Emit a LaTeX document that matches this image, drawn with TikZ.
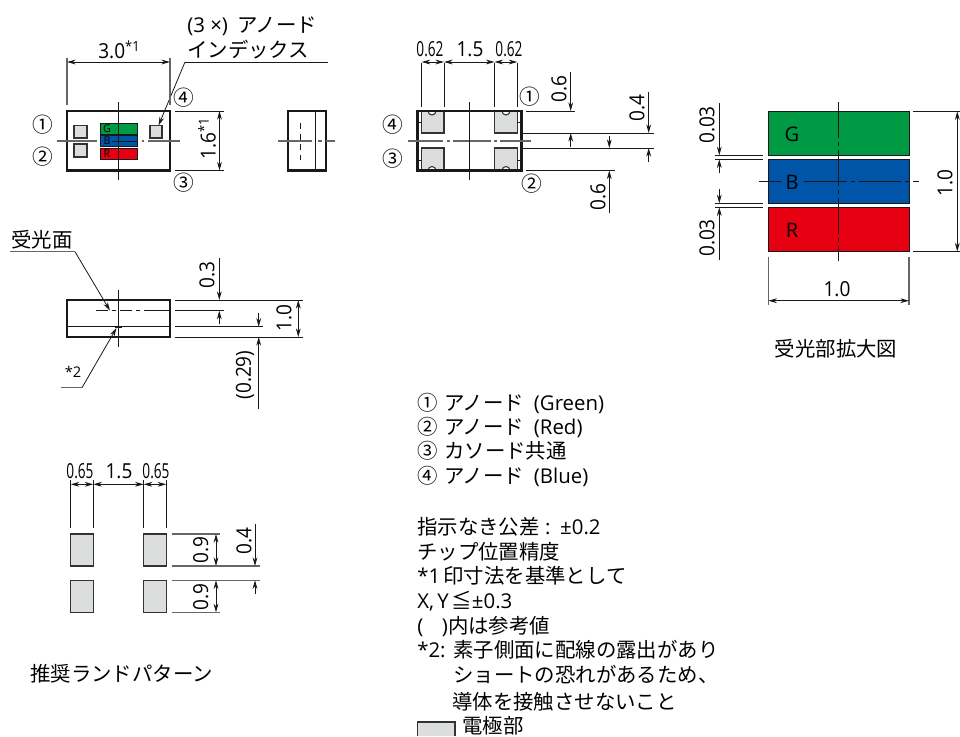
\documentclass[tikz,border=0pt]{standalone}
\usepackage{fontspec}
\setmainfont{Open Sans}
\newfontfamily\jpfont{Noto Sans CJK JP}
\newfontfamily\latfont{Open Sans}
\newfontfamily\dimfont[FakeStretch=0.92]{Open Sans}
\newfontfamily\narrowfont[FakeStretch=0.66]{Open Sans}
\usetikzlibrary{arrows.meta}
\definecolor{padgray}{HTML}{DCDDDD}
\definecolor{linegray}{HTML}{666666}
\definecolor{chipG}{HTML}{009944}
\definecolor{chipB}{HTML}{0055A8}
\definecolor{chipR}{HTML}{E60012}
\newcommand{\starone}{\raisebox{5pt}{\fontsize{10.5}{11}\selectfont*1}}
\tikzset{
	outline/.style={draw=black!90,line width=1.7pt},
	thinline/.style={draw=black!90,line width=0.7pt},
	extline/.style={draw=black!90,line width=0.6pt},
	grayline/.style={draw=linegray,line width=0.8pt},
	centerline/.style={draw=linegray,line width=1.1pt},
	dimline/.style={draw=black!90,line width=0.6pt},
	dimboth/.style={dimline,{Stealth[length=6.5pt,width=3.6pt]}-{Stealth[length=6.5pt,width=3.6pt]}},
	dimhead/.style={dimline,-{Stealth[length=6.5pt,width=3.6pt]}},
	padbox/.style={fill=padgray,draw=black!80,line width=0.8pt},
	txt/.style={inner sep=0pt,text height=14.6pt,text depth=3pt,font=\fontsize{15.3}{18}\selectfont\jpfont,anchor=west},
	dimtxt/.style={inner sep=0pt,font=\fontsize{15.5}{18}\selectfont\dimfont},
	smalldim/.style={inner sep=0pt,font=\fontsize{15.5}{18}\selectfont\narrowfont},
	circnum/.style={inner sep=0pt,font=\fontsize{15.5}{18}\selectfont\jpfont},
	chiplabel/.style={inner sep=0pt,font=\fontsize{15}{18}\selectfont},
	tinylabel/.style={inner sep=0pt,font=\fontsize{8}{9}\selectfont}
}
\begin{document}
\begin{tikzpicture}[x=0.75pt,y=-0.75pt]
	\useasboundingbox (0,0) rectangle (960,736);

	% top view
	\fill[chipG] (100,123) rectangle (137,134);
	\fill[chipB] (100,135.5) rectangle (137,146);
	\fill[chipR] (100,148) rectangle (137,159);
	\foreach \ytop in {123,135.5,148}
		\draw[thinline] (100,\ytop) rectangle (137,\ytop+11);
	\node[tinylabel] (chipg) at (107,129) {G};
	\node[tinylabel] (chipb) at (107,141) {B};
	\node[tinylabel] (chipr) at (107,154) {R};
	\draw[padbox] (74,125.5) rectangle (87,138);
	\draw[padbox] (74,144) rectangle (87,157);
	\draw[padbox] (150,125.5) rectangle (162,138);
	\draw[outline] (67,111) rectangle (170,170.5);
	\draw[centerline] (57,141) -- (97,141);
	\draw[centerline] (142,141) -- (144,141);
	\draw[centerline] (148,141) -- (180,141);
	\draw[thinline] (112,141) -- (137,141);
	\draw[thinline] (118.5,102) -- (118.5,180);
	\coordinate (idxbend) at (185,62);
	\coordinate (idxend) at (328,62);
	\coordinate (idxtip) at (158.5,125.5);
	\draw[thinline] (idxend) -- (idxbend);
	\draw[dimhead] (idxbend) -- (idxtip);
	\node[txt] (idxa) at (187,25) {{\latfont(3 ×)}\hspace{7pt}アノード};
	\node[txt] (idxb) at (187,50) {インデックス};
	\draw[grayline] (67,58) -- (67,105);
	\draw[grayline] (170,58) -- (170,105);
	\draw[dimboth] (67,62) -- (170,62);
	\node[dimtxt] (dimw) at (119,50) {3.0\starone};
	\draw[extline] (175,111) -- (224,111);
	\draw[extline] (175,170.5) -- (224,170.5);
	\draw[dimboth] (219.5,111) -- (219.5,170.5);
	\node[dimtxt,rotate=90] (dimh) at (207,139) {1.6\starone};
	\node[circnum] (topd) at (184,98) {④};
	\node[circnum] (topa) at (43,125) {①};
	\node[circnum] (topb) at (43,157) {②};
	\node[circnum] (topc) at (184,183) {③};

	% side view
	\draw[outline] (288,111) rectangle (326,170.5);
	\draw[thinline] (315,111) -- (315,170.5);
	\draw[centerline] (278,141) -- (312,141);
	\draw[centerline] (318,141) -- (322,141);
	\draw[centerline] (326,141) -- (335,141);
	\draw[thinline,dash pattern=on 4.5pt off 3.5pt] (300,123) -- (300,160);

	% bottom view
	\foreach \xa/\xb/\ya/\yb in {421.7/444/111/133,494.5/517.3/111/133,421.7/444/148/170.5,494.5/517.3/148/170.5}
		\draw[padbox] (\xa,\ya) rectangle (\xb,\yb);
	\foreach \xc in {432,506}{
		\draw[padbox,fill=white] (\xc-4,111) arc[start angle=180,end angle=0,radius=4];
		\draw[padbox,fill=white] (\xc-4,170.5) arc[start angle=180,end angle=360,radius=4];
	}
	\foreach \xe/\xf in {417.5/421.7,517.3/521.5}{
		\draw[thinline] (\xe,122) -- (\xf,122);
		\draw[thinline] (\xe,160) -- (\xf,160);
	}
	\draw[outline] (417.5,111) rectangle (521.5,170.5);
	\foreach \xa/\xb in {408/443,447/450,453/491,494/497,500/531}
		\draw[centerline] (\xa,141) -- (\xb,141);
	\draw[thinline] (469.3,102) -- (469.3,180);
	\foreach \xe in {421.7,444,494.5,517.3}
		\draw[extline] (\xe,63) -- (\xe,107);
	\draw[dimboth] (421.7,62) -- (444,62);
	\draw[dimboth] (444,62) -- (494.5,62);
	\draw[dimboth] (494.5,62) -- (517.3,62);
	\node[smalldim] (pw1) at (430,49) {0.62};
	\node[dimtxt] (pgap) at (470,49) {1.5};
	\node[smalldim] (pw2) at (509,49) {0.62};
	\draw[extline] (526,111) -- (575,111);
	\draw[extline] (522,133) -- (654,133);
	\draw[extline] (522,148) -- (654,148);
	\draw[extline] (526,170.5) -- (615,170.5);
	\draw[dimhead] (570.7,72) -- (570.7,111);
	\draw[dimhead] (570.7,147) -- (570.7,133);
	\draw[dimhead] (609.3,136) -- (609.3,148);
	\draw[dimhead] (609.3,213) -- (609.3,170.5);
	\draw[dimhead] (648.7,92) -- (648.7,133);
	\draw[dimhead] (648.7,162) -- (648.7,148);
	\node[dimtxt,rotate=90] (pa) at (559,89) {0.6};
	\node[dimtxt,rotate=90] (pb) at (598,197) {0.6};
	\node[dimtxt,rotate=90] (pc) at (637,108) {0.4};
	\node[circnum] (bota) at (530,97) {①};
	\node[circnum] (botd) at (393,125) {④};
	\node[circnum] (botc) at (393,159) {③};
	\node[circnum] (botb) at (532,184) {②};

	% enlarged chip
	\fill[chipG] (768.3,111.3) rectangle (909,155.3);
	\fill[chipB] (768.3,159.3) rectangle (909,203.3);
	\fill[chipR] (768.3,207.3) rectangle (909,251.5);
	\draw[thinline] (768.3,111.3) rectangle (909,155.3);
	\draw[thinline] (768.3,159.3) rectangle (909,203.3);
	\draw[thinline] (768.3,207.3) rectangle (909,251.5);
	\node[chiplabel] (labg) at (792,134) {G};
	\node[chiplabel] (labb) at (792,182) {B};
	\node[chiplabel] (labr) at (792,230) {R};
	\draw[thinline] (759,181.3) -- (781,181.3);
	\draw[thinline,dash pattern=on 32pt off 3pt on 3pt off 3pt] (804,181.3) -- (918.7,181.3);
	\draw[thinline,dash pattern=on 27pt off 3pt on 3pt off 3pt] (838.7,101.7) -- (838.7,260.7);
	\draw[extline] (913,111.3) -- (960,111.3);
	\draw[extline] (913,251.5) -- (960,251.5);
	\draw[dimboth] (957.3,111.3) -- (957.3,251.5);
	\node[dimtxt,rotate=90] (cdimh) at (945,183) {1.0};
	\draw[grayline] (768.3,256.7) -- (768.3,305);
	\draw[grayline] (909,256.7) -- (909,305);
	\draw[dimboth] (768.3,300.7) -- (909,300.7);
	\node[dimtxt] (cdimw) at (837,289) {1.0};
	\foreach \ye in {155.3,159.3,203.3,207.3}
		\draw[extline] (715,\ye) -- (763,\ye);
	\draw[dimhead] (719.3,103) -- (719.3,155.3);
	\draw[dimhead] (719.3,173) -- (719.3,159.3);
	\draw[dimhead] (719.3,189) -- (719.3,203.3);
	\draw[dimhead] (719.3,260) -- (719.3,207.3);
	\node[dimtxt,rotate=90] (cgapa) at (707,125) {0.03};
	\node[dimtxt,rotate=90] (cgapb) at (707,238) {0.03};
	\node[txt,anchor=center] (captchip) at (836,349) {受光部拡大図};

	% end view
	\draw[outline] (67,300) rectangle (170,337);
	\draw[thinline] (67,326.7) -- (170,326.7);
	\draw[thinline] (118.5,290) -- (118.5,347);
	\draw[thinline,dash pattern=on 9pt off 3pt on 3pt off 3pt] (96,310.7) -- (146,310.7);
	\draw[thinline] (146,310.7) -- (170,310.7);
	\draw[line width=1.3pt,black!90] (115,327.5) -- (122,327.5);
	\coordinate (facebend) at (75,251.7);
	\coordinate (faceend) at (10,251.7);
	\coordinate (facetip) at (110,310.7);
	\draw[grayline] (faceend) -- (facebend);
	\draw[dimhead] (facebend) -- (facetip);
	\node[txt,anchor=center] (face) at (42,240) {受光面};
	\coordinate (starbend) at (82,387.7);
	\coordinate (starend) at (61,387.7);
	\coordinate (startip) at (116.5,328);
	\draw[grayline] (starend) -- (starbend);
	\draw[dimhead] (starbend) -- (startip);
	\node[inner sep=0pt,font=\fontsize{11}{12}\selectfont] (star) at (73,372) {*2};
	\draw[extline] (175,300) -- (303,300);
	\draw[extline] (175,310.7) -- (224,310.7);
	\draw[extline] (175,326.7) -- (263,326.7);
	\draw[extline] (175,337) -- (303,337);
	\draw[dimhead] (219.3,258) -- (219.3,300);
	\draw[dimhead] (219.3,324) -- (219.3,310.7);
	\draw[dimboth] (298.3,300) -- (298.3,337);
	\draw[dimhead] (258.7,312.7) -- (258.7,326.7);
	\draw[dimhead] (258.7,409) -- (258.7,337);
	\node[dimtxt,rotate=90] (ea) at (207,275) {0.3};
	\node[dimtxt,rotate=90] (eb) at (284,318) {1.0};
	\node[dimtxt,rotate=90] (ec) at (245,375) {(0.29)};

	% land pattern
	\foreach \xa/\xb in {70.7/93.3,143.7/166.3}{
		\draw[padbox] (\xa,534) rectangle (\xb,566);
		\draw[padbox] (\xa,580.3) rectangle (\xb,612.3);
		\draw[extline] (\xa,480) -- (\xa,528);
		\draw[extline] (\xb,480) -- (\xb,528);
	}
	\draw[dimboth] (70.7,484.3) -- (93.3,484.3);
	\draw[dimboth] (93.3,484.3) -- (143.7,484.3);
	\draw[dimboth] (143.7,484.3) -- (166.3,484.3);
	\node[smalldim] (lw1) at (80,471) {0.65};
	\node[dimtxt] (lgap) at (119,471) {1.5};
	\node[smalldim] (lw2) at (156,471) {0.65};
	\draw[grayline] (171.7,534) -- (220,534);
	\draw[grayline] (171.7,566) -- (260,566);
	\draw[grayline] (171.7,580.3) -- (260,580.3);
	\draw[grayline] (171.7,612.3) -- (220,612.3);
	\draw[dimboth] (216,534) -- (216,566);
	\draw[dimboth] (216,580.3) -- (216,612.3);
	\draw[dimhead] (255,524) -- (255,566);
	\draw[dimhead] (255,594) -- (255,580.3);
	\node[dimtxt,rotate=90] (la) at (200.7,550) {0.9};
	\node[dimtxt,rotate=90] (lb) at (200.7,596.7) {0.9};
	\node[dimtxt,rotate=90] (lc) at (244,540.7) {0.4};
	\node[txt] (captland) at (30,674) {推奨ランドパターン};

	% notes
	\node[txt] (n1) at (417,403) {①\hspace{1.5pt} アノード\hspace{4pt} {\latfont(Green)}};
	\node[txt] (n2) at (417,427) {②\hspace{1.5pt} アノード\hspace{4pt} {\latfont(Red)}};
	\node[txt] (n3) at (417,451) {③\hspace{1.5pt} カソード共通};
	\node[txt] (n4) at (417,476) {④\hspace{1.5pt} アノード\hspace{4pt} {\latfont(Blue)}};
	\node[txt] (n5) at (417,527) {指示なき公差\hspace{4pt}{\latfont:\hspace{2pt} ±0.2}};
	\node[txt] (n6) at (417,552) {チップ位置精度};
	\node[txt] (n7) at (417,576) {{\latfont*1}\,印寸法を基準として};
	\node[txt] (n8) at (417,601) {{\latfont X,\,Y}\hspace{2pt}≦{\latfont±0.3}};
	\node[txt] (n9) at (417,626) {{\latfont(\hspace{14pt})}内は参考値};
	\node[txt] (n10) at (417,650) {\makebox[27pt][l]{\latfont*2:}素子側面に配線の露出があり};
	\node[txt] (n11) at (453,675) {ショートの恐れがあるため、};
	\node[txt] (n12) at (452,702) {導体を接触させないこと};
	\fill[padgray] (417.5,722) rectangle (455,736);
	\draw[draw=black!80,line width=0.8pt] (417.5,736) -- (417.5,722) -- (455,722) -- (455,736);
	\node[txt] (n13) at (462,726) {電極部};
\end{tikzpicture}
\end{document}
